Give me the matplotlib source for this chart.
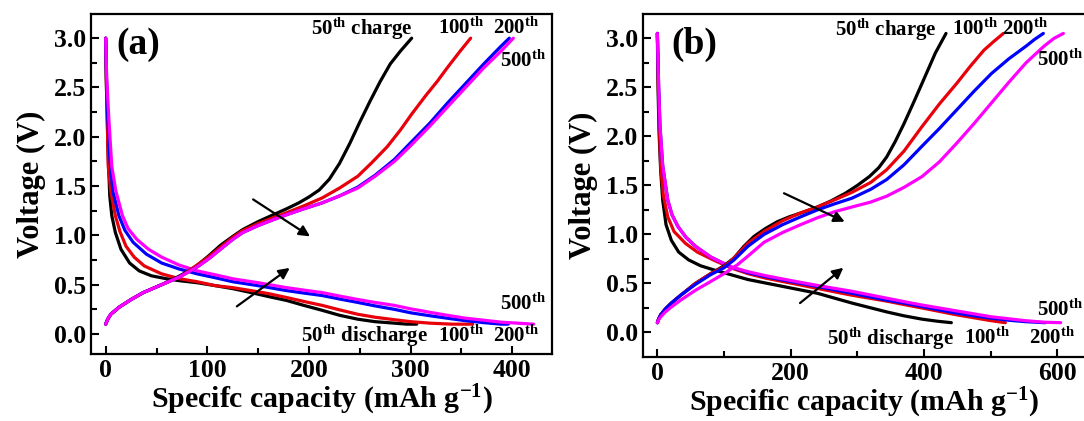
import matplotlib
matplotlib.use("Agg")
import matplotlib.pyplot as plt

plt.rcParams['font.family'] = ['Liberation Serif', 'DejaVu Serif']
plt.rcParams['font.weight'] = 'bold'
plt.rcParams['mathtext.fontset'] = 'custom'
plt.rcParams['mathtext.rm'] = 'Liberation Serif:bold'
plt.rcParams['mathtext.it'] = 'Liberation Serif:bold:italic'
plt.rcParams['mathtext.bf'] = 'Liberation Serif:bold'

colors = ['black', '#e8000b', '#0000ff', '#ff00ff']

# ---- panel (a): charge curves (50th, 100th, 200th, 500th)
a_chg_x = [
    [0, 2, 5, 13, 25, 37, 55, 73, 88, 101, 113, 125, 135, 150, 165, 178, 190, 200,
     210, 220, 230, 240, 250, 260, 270, 280, 290, 301],
    [0, 2, 5, 13, 25, 37, 55, 73, 90, 101, 113, 125, 135, 150, 165, 178, 195, 213,
     230, 248, 262, 277, 290, 301, 315, 326, 336, 348, 359],
    [0, 2, 5, 13, 25, 37, 55, 73, 90, 101, 113, 125, 135, 150, 165, 178, 195, 213,
     230, 248, 265, 284, 300, 319, 336, 354, 372, 389, 397],
    [0, 2, 5, 13, 25, 37, 55, 73, 90, 101, 113, 125, 135, 150, 165, 178, 195, 213,
     230, 248, 265, 284, 300, 319, 336, 354, 372, 389, 401],
]
a_chg_y = [
    [0.10, 0.15, 0.20, 0.27, 0.35, 0.42, 0.50, 0.59, 0.68, 0.79, 0.90, 0.99, 1.06,
     1.14, 1.21, 1.27, 1.33, 1.39, 1.46, 1.57, 1.73, 1.93, 2.15, 2.36, 2.56, 2.74,
     2.87, 3.0],
    [0.10, 0.15, 0.20, 0.27, 0.35, 0.42, 0.50, 0.58, 0.70, 0.78, 0.88, 0.98, 1.05,
     1.12, 1.18, 1.23, 1.30, 1.38, 1.48, 1.60, 1.74, 1.90, 2.07, 2.23, 2.42, 2.56,
     2.70, 2.86, 3.0],
    [0.10, 0.15, 0.20, 0.27, 0.35, 0.42, 0.50, 0.58, 0.68, 0.76, 0.86, 0.96, 1.03,
     1.10, 1.16, 1.21, 1.27, 1.33, 1.40, 1.49, 1.61, 1.77, 1.94, 2.14, 2.34, 2.54,
     2.74, 2.92, 3.0],
    [0.10, 0.15, 0.20, 0.27, 0.35, 0.42, 0.50, 0.58, 0.68, 0.76, 0.86, 0.96, 1.03,
     1.10, 1.16, 1.21, 1.27, 1.33, 1.40, 1.48, 1.60, 1.75, 1.91, 2.11, 2.30, 2.50,
     2.70, 2.87, 3.0],
]
# ---- panel (a): discharge curves
a_dis_x = [
    [0, 0.5, 1.5, 2.5, 4, 6, 9.5, 15, 23.5, 33, 45, 60, 73, 90, 108, 125, 143, 160,
     178, 195, 213, 230, 248, 265, 284, 296, 306],
    [0, 0.6, 1.5, 2.5, 5, 9.5, 14, 20, 28, 38, 55, 73, 90, 108, 125, 143, 160, 178,
     195, 213, 230, 248, 265, 284, 300, 319, 340, 361],
    [0, 0.8, 2, 4, 7, 13, 19, 27, 40, 55, 72, 90, 108, 125, 150, 178, 195, 213, 230,
     248, 265, 284, 300, 319, 336, 354, 372, 389, 396],
    [0, 1, 3, 6, 10, 16.5, 22, 30.6, 42, 55, 72, 90, 108, 125, 150, 178, 195, 213,
     230, 248, 265, 284, 300, 319, 336, 354, 372, 389, 405, 421],
]
a_dis_y = [
    [3.0, 2.6, 2.2, 1.8, 1.4, 1.2, 1.03, 0.86, 0.72, 0.64, 0.59, 0.56, 0.54, 0.52,
     0.49, 0.46, 0.42, 0.38, 0.34, 0.29, 0.24, 0.19, 0.15, 0.125, 0.11, 0.10, 0.10],
    [3.0, 2.6, 2.2, 1.7, 1.45, 1.20, 1.04, 0.89, 0.78, 0.69, 0.61, 0.56, 0.53, 0.49,
     0.47, 0.44, 0.41, 0.37, 0.33, 0.29, 0.245, 0.20, 0.17, 0.145, 0.125, 0.11, 0.10,
     0.10],
    [3.0, 2.6, 2.2, 1.8, 1.45, 1.20, 1.05, 0.93, 0.81, 0.72, 0.66, 0.61, 0.57, 0.53,
     0.49, 0.44, 0.415, 0.39, 0.355, 0.32, 0.285, 0.25, 0.215, 0.185, 0.16, 0.135,
     0.115, 0.10, 0.10],
    [3.0, 2.6, 2.2, 1.7, 1.45, 1.20, 1.07, 0.96, 0.86, 0.78, 0.70, 0.64, 0.60, 0.56,
     0.52, 0.47, 0.445, 0.42, 0.385, 0.35, 0.32, 0.29, 0.255, 0.22, 0.19, 0.16,
     0.14, 0.12, 0.11, 0.10],
]

# ---- panel (b): charge curves
b_chg_x = [
    [0, 2, 5, 12, 21, 35, 57, 80, 100, 115, 130, 145, 162, 180, 198, 220, 240, 260,
     282, 300, 318, 332, 344, 357, 370, 384, 397, 408, 417, 425, 433],
    [0, 2, 5, 12, 21, 35, 57, 80, 100, 115, 136, 160, 188, 215, 240, 265, 292, 320,
     344, 370, 397, 423, 449, 470, 490, 505, 519],
    [0, 2, 5, 12, 21, 35, 57, 80, 100, 115, 136, 160, 188, 215, 240, 265, 292, 320,
     344, 370, 397, 423, 449, 475, 501, 527, 553, 566, 579],
    [0, 2, 5, 12, 21, 35, 57, 80, 100, 120, 136, 160, 188, 215, 240, 265, 292, 320,
     344, 370, 397, 423, 449, 475, 501, 527, 553, 580, 595, 609],
]
b_chg_y = [
    [0.10, 0.14, 0.18, 0.24, 0.30, 0.38, 0.50, 0.60, 0.68, 0.76, 0.88, 0.98, 1.06,
     1.13, 1.18, 1.23, 1.28, 1.34, 1.42, 1.50, 1.59, 1.68, 1.79, 1.95, 2.13, 2.34,
     2.54, 2.71, 2.85, 2.95, 3.05],
    [0.10, 0.14, 0.18, 0.24, 0.30, 0.38, 0.50, 0.60, 0.67, 0.76, 0.91, 1.03, 1.14,
     1.22, 1.28, 1.35, 1.43, 1.53, 1.66, 1.85, 2.10, 2.33, 2.54, 2.72, 2.88, 2.97,
     3.05],
    [0.10, 0.14, 0.18, 0.24, 0.30, 0.38, 0.49, 0.59, 0.66, 0.74, 0.88, 1.00, 1.10,
     1.18, 1.25, 1.31, 1.37, 1.46, 1.56, 1.71, 1.90, 2.08, 2.27, 2.46, 2.64, 2.79,
     2.92, 2.99, 3.05],
    [0.10, 0.13, 0.16, 0.21, 0.26, 0.33, 0.43, 0.52, 0.60, 0.69, 0.78, 0.92, 1.02,
     1.10, 1.17, 1.23, 1.28, 1.33, 1.39, 1.48, 1.59, 1.74, 1.93, 2.13, 2.34, 2.55,
     2.75, 2.92, 3.0, 3.05],
]
# ---- panel (b): discharge curves
b_dis_x = [
    [0, 1, 2.6, 5, 8, 13, 21, 32, 47, 65, 84, 110, 136, 162, 188, 214, 240, 266, 292,
     318, 344, 370, 397, 420, 441],
    [0, 1.5, 3, 5, 9, 15.6, 25, 42, 60, 84, 110, 136, 162, 188, 214, 240, 266, 292,
     318, 344, 370, 397, 423, 449, 475, 501, 522],
    [0, 2, 4, 8, 15.6, 22, 31, 43, 57, 80, 110, 136, 162, 200, 240, 266, 292, 318,
     344, 370, 397, 423, 449, 475, 501, 527, 553, 582],
    [0, 2, 4, 8, 15.6, 22, 31, 43, 57, 80, 110, 136, 162, 200, 240, 266, 292, 318,
     344, 370, 397, 423, 449, 475, 501, 527, 553, 580, 605],
]
b_dis_y = [
    [3.05, 2.5, 2.03, 1.65, 1.35, 1.10, 0.94, 0.82, 0.74, 0.68, 0.64, 0.59, 0.54,
     0.505, 0.47, 0.435, 0.40, 0.35, 0.30, 0.255, 0.21, 0.17, 0.136, 0.115, 0.10],
    [3.05, 2.5, 2.1, 1.69, 1.40, 1.18, 1.03, 0.91, 0.82, 0.74, 0.66, 0.60, 0.555,
     0.52, 0.485, 0.45, 0.415, 0.38, 0.35, 0.32, 0.285, 0.25, 0.215, 0.18, 0.15,
     0.12, 0.10],
    [3.05, 2.5, 2.1, 1.7, 1.35, 1.20, 1.08, 0.97, 0.88, 0.77, 0.67, 0.61, 0.57, 0.52,
     0.47, 0.435, 0.40, 0.365, 0.33, 0.30, 0.265, 0.23, 0.197, 0.17, 0.146, 0.125,
     0.11, 0.10],
    [3.05, 2.5, 2.1, 1.7, 1.35, 1.20, 1.08, 0.97, 0.88, 0.77, 0.67, 0.62, 0.58, 0.53,
     0.48, 0.45, 0.42, 0.385, 0.35, 0.315, 0.28, 0.25, 0.22, 0.19, 0.16, 0.14, 0.12,
     0.105, 0.10],
]

TH = r'$^{\rm th}$'

a_labels = [
    ('50' + TH + ' charge', 252, 3.10, 'center'),
    ('100' + TH, 350, 3.10, 'center'),
    ('200' + TH, 404, 3.10, 'center'),
    ('500' + TH, 411, 2.77, 'center'),
    ('500' + TH, 411, 0.30, 'center'),
    ('50' + TH + ' discharge', 255, -0.02, 'center'),
    ('100' + TH, 350, -0.02, 'center'),
    ('200' + TH, 404, -0.02, 'center'),
]
b_labels = [
    ('50' + TH + ' charge', 343, 3.09, 'center'),
    ('100' + TH, 476, 3.09, 'center'),
    ('200' + TH, 551, 3.09, 'center'),
    ('500' + TH, 639, 2.78, 'right'),
    ('500' + TH, 639, 0.23, 'right'),
    ('50' + TH + ' discharge', 350, -0.06, 'center'),
    ('100' + TH, 494, -0.06, 'center'),
    ('200' + TH, 592, -0.06, 'center'),
]
a_arrows = [((145, 1.365), (201, 0.99)), ((129, 0.28), (181, 0.67))]
b_arrows = [((190, 1.42), (281, 1.13)), ((214, 0.30), (279, 0.66))]


def draw_panel(ax, chg_x, chg_y, dis_x, dis_y, labels, arrows, tag, xlabel,
               xlim, ylim, xmajor):
    for i in range(4):
        ax.plot(dis_x[i], dis_y[i], color=colors[i], lw=2.3, solid_capstyle='round',
                solid_joinstyle='round')
    for i in range(4):
        ax.plot(chg_x[i], chg_y[i], color=colors[i], lw=2.3, solid_capstyle='round',
                solid_joinstyle='round')
    for txt, x, y, ha in labels:
        ax.text(x, y, txt, fontsize=15, fontweight='bold', ha=ha, va='center',
                clip_on=False)
    for start, end in arrows:
        ax.annotate('', xy=end, xytext=start,
                    arrowprops=dict(arrowstyle='-|>', color='black', lw=1.6,
                                    mutation_scale=16, shrinkA=0, shrinkB=0))
    ax.text(tag[1], tag[2], tag[0], fontsize=27, fontweight='bold',
            ha='center', va='center')
    ax.set_xlim(*xlim)
    ax.set_ylim(*ylim)
    ax.set_xticks(range(0, int(xlim[1]), xmajor))
    ax.set_xticks(range(xmajor // 2, int(xlim[1]), xmajor), minor=True)
    ax.set_yticks([0.0, 0.5, 1.0, 1.5, 2.0, 2.5, 3.0])
    ax.set_yticks([0.25, 0.75, 1.25, 1.75, 2.25, 2.75], minor=True)
    ax.set_yticklabels(['0.0', '0.5', '1.0', '1.5', '2.0', '2.5', '3.0'])
    ax.tick_params(which='both', direction='in', width=1.5, labelsize=18.5)
    ax.tick_params(which='major', length=6)
    ax.tick_params(which='minor', length=4)
    for lab in ax.get_xticklabels() + ax.get_yticklabels():
        lab.set_fontweight('bold')
    for sp in ax.spines.values():
        sp.set_linewidth(1.6)
    ax.set_xlabel(xlabel, fontsize=21.5, fontweight='bold', labelpad=1)
    ax.set_ylabel('Voltage (V)', fontsize=22, fontweight='bold', labelpad=6)


fig = plt.figure(figsize=(10.84, 4.21), dpi=100)
ax_a = fig.add_axes([0.0839, 0.1591, 0.4253, 0.8076])
ax_b = fig.add_axes([0.5935, 0.1520, 0.4065, 0.8147])

draw_panel(ax_a, a_chg_x, a_chg_y, a_dis_x, a_dis_y, a_labels, a_arrows,
           ('(a)', 32, 2.94), r'Specifc capacity (mAh g$^{\rm{-}1}$)',
           (-14.5, 439), (-0.203, 3.245), 100)
draw_panel(ax_b, b_chg_x, b_chg_y, b_dis_x, b_dis_y, b_labels, b_arrows,
           ('(b)', 56, 2.94), r'Specific capacity (mAh g$^{\rm{-}1}$)',
           (-21, 640), (-0.25, 3.248), 200)
ax_b.spines['right'].set_visible(False)

fig.savefig('out.png', dpi=100)
